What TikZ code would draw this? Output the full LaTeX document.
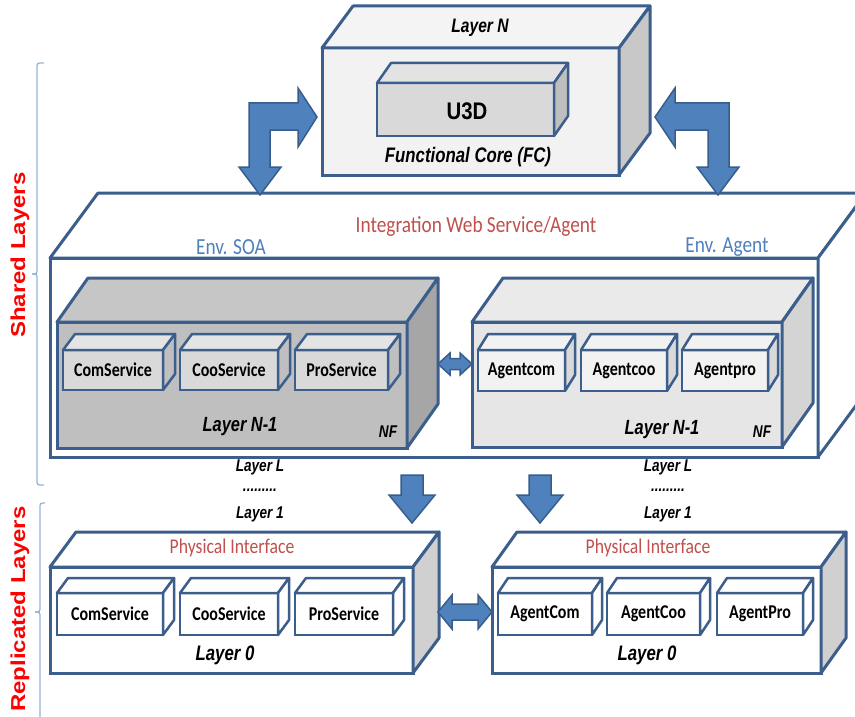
\documentclass[tikz,border=0pt]{standalone}
\usepackage{fontspec}
\usepackage{graphicx}
\setmainfont{Carlito}[FakeStretch=0.84]
\newfontfamily\svcfont{Carlito}[FakeStretch=0.82]
\newfontfamily\bifont{Liberation Sans}[FakeStretch=0.8]
\newfontfamily\boldfont{Liberation Sans}[FakeStretch=0.85]
\newfontfamily\sidefont{Liberation Sans}
\definecolor{bd}{HTML}{3B5E8C}
\definecolor{arrfill}{HTML}{4F81BD}
\definecolor{arrline}{HTML}{385D8A}
\definecolor{envblue}{HTML}{4F81BD}
\definecolor{redbrown}{HTML}{C0504D}
\definecolor{brace}{HTML}{95B3D7}
% colour sets: F front, T top, S side
\definecolor{tbF}{HTML}{F2F2F2}\definecolor{tbT}{HTML}{F4F4F4}\definecolor{tbS}{HTML}{C8C8C8}
\definecolor{ubF}{HTML}{D9D9D9}\definecolor{ubT}{HTML}{E3E3E3}\definecolor{ubS}{HTML}{BFBFBF}
\definecolor{wbF}{HTML}{FFFFFF}\definecolor{wbT}{HTML}{FFFFFF}\definecolor{wbS}{HTML}{FFFFFF}
\definecolor{gbF}{HTML}{BFBFBF}\definecolor{gbT}{HTML}{C6C6C6}\definecolor{gbS}{HTML}{A6A6A6}
\definecolor{giF}{HTML}{D9D9D9}\definecolor{giT}{HTML}{E4E4E4}\definecolor{giS}{HTML}{BFBFBF}
\definecolor{lbF}{HTML}{E6E6E6}\definecolor{lbT}{HTML}{EAEAEA}\definecolor{lbS}{HTML}{D4D4D4}
\definecolor{liF}{HTML}{F2F2F2}\definecolor{liT}{HTML}{F2F2F2}\definecolor{liS}{HTML}{D9D9D9}
\definecolor{bbF}{HTML}{FFFFFF}\definecolor{bbT}{HTML}{FFFFFF}\definecolor{bbS}{HTML}{D0D0D0}
\definecolor{wiF}{HTML}{FFFFFF}\definecolor{wiT}{HTML}{FFFFFF}\definecolor{wiS}{HTML}{FFFFFF}
% #1 name, #2 x1, #3 y1, #4 x2, #5 y2, #6 dx, #7 dy, #8 colour set, #9 line width
\newcommand\cuboid[9]{%
  \node[draw=bd, line width=#9, fill=#8F, inner sep=0pt, outer sep=0pt,
        minimum width={(#4-#2)*1pt}, minimum height={(#5-#3)*1pt}]
        (#1) at ({(#2+#4)/2},{(#3+#5)/2}) {};
  \draw[draw=bd, line width=#9, fill=#8T, line join=round]
        (#1.north west) -- ++(#6,-#7) -- ++({#4-#2},0) -- (#1.north east) -- cycle;
  \draw[draw=bd, line width=#9, fill=#8S, line join=round]
        (#1.north east) -- ++(#6,-#7) -- ++(0,{#5-#3}) -- (#1.south east) -- cycle;
}
\tikzset{
  svc/.style={inner sep=0pt, font=\svcfont\bfseries\fontsize{19.5}{22}\selectfont},
  env/.style={inner sep=0pt, text=envblue, font=\fontsize{23}{26}\selectfont},
  rtitle/.style={inner sep=0pt, text=redbrown, font=\fontsize{#1}{26}\selectfont},
  bilbl/.style={inner sep=0pt, font=\bifont\bfseries\itshape\fontsize{#1}{22}\selectfont},
  side/.style={inner sep=0pt, text=red, rotate=90, font=\sidefont\bfseries\fontsize{24}{26}\selectfont},
  blockarrow/.style={fill=arrfill, draw=arrline, line width=1.5pt, line join=miter},
  bracestyle/.style={draw=brace, line width=1.3pt, rounded corners=2.5pt},
}
\begin{document}
\begin{tikzpicture}[x=1pt, y=-1pt]
\useasboundingbox (0,0) rectangle (855,717);
\clip (0,0) rectangle (855,717);

% ---- big integration box
\cuboid{integ}{50}{258}{818}{457}{48}{65}{wb}{3pt}
\node[rtitle=23] (integT) at (476,226) {Integration Web Service/Agent};
\node[env] (envSOA) at (231,247) {Env. SOA};
\node[env] (envAG) at (727,247) {Env. Agent};

% SOA layer N-1
\cuboid{soa}{57}{322}{407}{448}{31}{44}{gb}{3pt}
\cuboid{s1}{63}{350}{163}{390}{12}{16}{gi}{2.5pt}
\cuboid{s2}{180}{350}{278}{390}{12}{16}{gi}{2.5pt}
\cuboid{s3}{295}{350}{388}{390}{12}{16}{gi}{2.5pt}
\node[svc] (s1t) at (s1) {ComService};
\node[svc] (s2t) at (s2) {CooService};
\node[svc] (s3t) at (s3) {ProService};
\node[bilbl=20.5] (soaL) at (240,427) {Layer N-1};
\node[bilbl=17] (soaNF) at (388,432) {NF};

% Agent layer N-1
\cuboid{agt}{472}{322}{782}{447}{31}{44}{lb}{3pt}
\cuboid{a1}{478}{350}{565}{391}{10}{16}{li}{2.5pt}
\cuboid{a2}{581}{350}{667}{391}{10}{16}{li}{2.5pt}
\cuboid{a3}{682}{350}{768}{391}{10}{16}{li}{2.5pt}
\node[svc] (a1t) at (a1) {Agentcom};
\node[svc] (a2t) at (a2) {Agentcoo};
\node[svc] (a3t) at (a3) {Agentpro};
\node[bilbl=20.5] (agtL) at (662,430) {Layer N-1};
\node[bilbl=17] (agtNF) at (762,432) {NF};

% ---- top box Layer N
\cuboid{layerN}{322}{48}{619}{175}{31}{42}{tb}{3pt}
\cuboid{u3d}{377}{83}{554}{136}{14}{20}{ub}{2.5pt}
\node[inner sep=0pt, font=\boldfont\bfseries\fontsize{24}{26}\selectfont] (u3dT) at (467,111) {U3D};
\node[bilbl=19.5] (layerNT) at (480,28) {Layer N};
\node[bilbl=21] (fcT) at (468,157) {Functional Core (FC)};

% ---- bottom boxes
\cuboid{b0}{50}{567}{413}{673}{26}{35}{bb}{3pt}
\cuboid{c1}{57}{593}{163}{635}{11}{15}{wi}{2.5pt}
\cuboid{c2}{180}{593}{278}{635}{11}{15}{wi}{2.5pt}
\cuboid{c3}{295}{593}{393}{635}{11}{15}{wi}{2.5pt}
\node[svc] (c1t) at (c1) {ComService};
\node[svc] (c2t) at (c2) {CooService};
\node[svc] (c3t) at (c3) {ProService};
\node[rtitle=21] (pi0) at (232,548) {Physical Interface};
\node[bilbl=21] (l0a) at (225,655) {Layer 0};

\cuboid{b1}{492}{567}{821}{673}{25}{35}{bb}{3pt}
\cuboid{d1}{498}{593}{592}{635}{10}{15}{wi}{2.5pt}
\cuboid{d2}{607}{593}{700}{635}{10}{15}{wi}{2.5pt}
\cuboid{d3}{717}{593}{803}{635}{10}{15}{wi}{2.5pt}
\node[svc] (d1t) at (d1) {AgentCom};
\node[svc] (d2t) at (d2) {AgentCoo};
\node[svc] (d3t) at (d3) {AgentPro};
\node[rtitle=21] (pi1) at (648,548) {Physical Interface};
\node[bilbl=21] (l0b) at (647,655) {Layer 0};

% intermediate layer labels
\node[bilbl=17] (lLa) at (260,467) {Layer L};
\node[bilbl=17] (dta) at (260,490) {.........};
\node[bilbl=17] (l1a) at (260,514) {Layer 1};
\node[bilbl=17] (lLb) at (668,467) {Layer L};
\node[bilbl=17] (dtb) at (668,490) {.........};
\node[bilbl=17] (l1b) at (668,514) {Layer 1};

% ---- block arrows
% left bent double arrow
\draw[blockarrow] (317,117) -- (298,88) -- (298,103) -- (249,103) -- (249,167) -- (239,167)
  -- (260,195) -- (281,167) -- (270,167) -- (270,130) -- (298,130) -- (298,147) -- cycle;
% right bent double arrow
\draw[blockarrow] (655,117) -- (675,88) -- (675,103) -- (729,103) -- (729,167) -- (739,167)
  -- (718,195) -- (697,167) -- (708,167) -- (708,130) -- (675,130) -- (675,147) -- cycle;
% down arrows
\draw[blockarrow] (401,475) -- (423,475) -- (423,495) -- (435,495) -- (412,523) -- (389,495) -- (401,495) -- cycle;
\draw[blockarrow] (529,475) -- (551,475) -- (551,495) -- (563,495) -- (540,523) -- (517,495) -- (529,495) -- cycle;
% middle double arrow
\draw[blockarrow] (438,364) -- (450,353) -- (450,358.5) -- (460,358.5) -- (460,353) -- (472,364)
  -- (460,375) -- (460,369.5) -- (450,369.5) -- (450,375) -- cycle;
% bottom double arrow
\draw[blockarrow] (438,612) -- (452,595) -- (452,604) -- (478,604) -- (478,595) -- (492,612)
  -- (478,629) -- (478,620) -- (452,620) -- (452,629) -- cycle;

% ---- side braces and labels
\draw[bracestyle] (44,63) -- (37,63) -- (37,274) -- (32,274);
\draw[bracestyle] (32,274) -- (37,274) -- (37,485) -- (44,485);
\draw[bracestyle] (45,503) -- (40,503) -- (40,612) -- (35,612);
\draw[bracestyle] (35,612) -- (40,612) -- (40,730);
\node[side] (sharedT) at (20,255) {\scalebox{1}[0.84]{Shared Layers}};
\node[side] (replT) at (20,609) {\scalebox{1}[0.84]{Replicated Layers}};
\end{tikzpicture}
\end{document}
